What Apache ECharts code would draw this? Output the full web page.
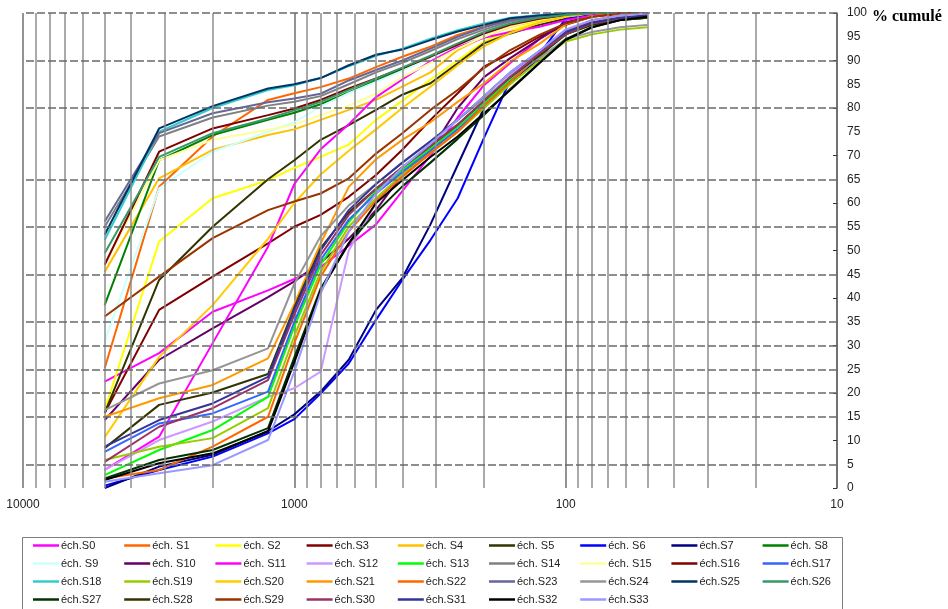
<!DOCTYPE html>
<html><head><meta charset="utf-8">
<script src="https://cdn.jsdelivr.net/npm/echarts@6/dist/echarts.min.js"></script>
<style>html,body{margin:0;padding:0;background:#fff}#c{width:948px;height:609px}</style>
</head><body><div id="c"></div>
<script>
// sieve sizes (µm)
const sizes = [5000, 3150, 2000, 1250, 1000, 800, 630, 500, 400, 315, 250, 200, 160, 125, 100, 80, 63, 50];

const names = ['éch.S0','éch. S1','éch. S2','éch.S3','éch. S4','éch. S5','éch. S6','éch.S7','éch. S8',
  'éch. S9','éch. S10','éch. S11','éch. S12','éch. S13','éch. S14','éch. S15','éch.S16','éch.S17',
  'éch.S18','éch.S19','éch.S20','éch.S21','éch.S22','éch.S23','éch.S24','éch.S25','éch.S26',
  'éch.S27','éch.S28','éch.S29','éch.S30','éch.S31','éch.S32','éch.S33'];

const colors = ['#FF00FF','#FF6600','#FFFF00','#800000','#FFC000','#333300','#0000FF','#000080','#008000',
  '#CCFFFF','#660066','#FF00FF','#CC99FF','#00FF00','#808080','#FFFF99','#800000','#3366FF',
  '#33CCCC','#99CC00','#FFCC00','#FF9900','#FF6600','#666699','#969696','#003366','#339966',
  '#003300','#333300','#993300','#993366','#333399','#000000','#9999FF'];

const S0  = [22.4, 28.4, 37.1, 41.6, 44.0, 46.5, 51.0, 55.5, 62.5, 70.0, 78.0, 84.8, 89.5, 94.5, 97.8, 99.3, 100, 100];
const S1  = [25.2, 63.4, 74.0, 81.7, 83.1, 84.4, 86.2, 88.6, 90.8, 92.9, 95.4, 97.1, 98.9, 99.5, 100, 100, 100, 100];
const S2  = [16.4, 51.9, 61.0, 64.8, 67.4, 69.7, 72.3, 77.5, 81.5, 86.0, 90.0, 94.0, 96.2, 98.3, 99.3, 100, 100, 100];
const S3  = [15.8, 37.5, 44.5, 51.5, 55.0, 57.5, 61.3, 65.9, 71.2, 77.5, 83.1, 88.7, 91.5, 95.0, 97.5, 99.2, 99.8, 100];
const S4  = [45.5, 65.2, 71.2, 74.3, 75.5, 77.5, 79.6, 81.7, 84.5, 87.5, 92.2, 95.0, 97.1, 98.5, 99.3, 100, 100, 100];
const S5  = [15.8, 43.8, 55.0, 65.0, 69.0, 73.3, 76.4, 79.6, 82.8, 85.2, 89.4, 93.6, 95.7, 97.5, 98.8, 99.5, 100, 100];
const S6  = [0.5, 3.8, 6.6, 11.5, 14.5, 19.9, 26.2, 35.4, 43.8, 52.2, 61.0, 73.7, 85.9, 91.3, 98.8, 99.6, 100, 100];
const S7  = [0.0, 4.5, 7.0, 12.0, 15.5, 20.3, 27.0, 37.5, 44.2, 55.5, 68.0, 80.0, 85.5, 90.5, 96.4, 97.8, 98.9, 99.3];
const S8  = [38.5, 69.0, 74.3, 77.5, 79.0, 80.8, 83.3, 85.8, 88.2, 90.8, 93.4, 95.8, 97.6, 98.9, 99.5, 100, 100, 100];
const S9  = [30.8, 63.1, 70.8, 75.0, 77.0, 80.3, 83.1, 85.5, 87.8, 90.5, 93.0, 95.5, 97.5, 98.8, 99.5, 100, 100, 100];
const S10 = [14.3, 27.0, 33.6, 40.2, 43.5, 47.5, 52.5, 58.5, 66.0, 71.0, 80.0, 86.5, 90.5, 94.5, 98.0, 99.5, 100, 100];
const S11 = [3.8, 10.8, 30.5, 50.8, 64.0, 71.3, 76.6, 82.3, 86.0, 89.8, 92.8, 94.8, 96.0, 97.1, 98.5, 99.5, 100, 100];
const S12 = [3.8, 10.1, 14.0, 19.2, 21.0, 24.5, 50.0, 60.0, 66.5, 71.5, 76.5, 81.5, 87.0, 92.0, 96.5, 98.5, 99.5, 100];
const S13 = [2.7, 8.0, 12.2, 19.2, 34.0, 47.0, 56.0, 62.5, 67.0, 71.5, 76.0, 81.0, 86.0, 91.0, 95.5, 97.5, 98.5, 99.0];
const S14 = [55.0, 74.0, 78.0, 80.5, 81.3, 82.5, 85.0, 87.5, 89.5, 92.0, 94.5, 96.5, 98.2, 99.2, 99.7, 100, 100, 100];
const S15 = [47.0, 69.0, 73.3, 75.4, 76.5, 78.5, 80.5, 83.0, 86.5, 89.5, 92.5, 95.0, 97.2, 98.6, 99.4, 100, 100, 100];
const S16 = [47.0, 70.8, 75.7, 78.5, 79.9, 81.7, 84.1, 86.2, 88.4, 90.8, 93.3, 95.7, 97.5, 98.8, 99.5, 100, 100, 100];
const S17 = [7.6, 13.6, 15.7, 20.3, 35.0, 48.0, 56.5, 62.0, 66.5, 71.0, 75.5, 80.5, 85.5, 91.0, 95.8, 98.0, 99.0, 99.5];
const S18 = [52.2, 75.0, 80.0, 83.8, 84.8, 86.3, 88.8, 91.0, 92.5, 94.6, 96.4, 97.8, 99.0, 99.6, 100, 100, 100, 100];
const S19 = [5.9, 8.7, 10.5, 16.8, 32.0, 45.5, 55.0, 61.0, 66.0, 70.5, 75.0, 80.0, 85.0, 90.0, 94.0, 95.5, 96.5, 97.0];
const S20 = [10.7, 27.6, 38.5, 52.5, 60.0, 66.0, 71.0, 75.5, 80.0, 84.5, 89.0, 93.0, 95.8, 98.0, 99.2, 100, 100, 100];
const S21 = [15.0, 18.9, 21.7, 27.3, 38.7, 51.5, 63.4, 69.2, 73.3, 77.0, 81.3, 85.2, 89.8, 93.5, 97.6, 99.3, 100, 100];
const S22 = [2.0, 3.8, 8.7, 15.0, 30.5, 44.5, 54.0, 60.5, 65.5, 70.5, 75.0, 80.5, 85.5, 91.0, 96.0, 98.5, 99.5, 100];
const S23 = [56.1, 74.7, 78.9, 81.2, 82.0, 83.0, 85.8, 88.0, 90.0, 92.5, 95.0, 97.0, 98.5, 99.3, 99.8, 100, 100, 100];
const S24 = [16.4, 22.0, 24.8, 29.4, 43.0, 53.0, 59.5, 64.0, 68.5, 73.0, 77.5, 82.0, 86.5, 90.5, 94.5, 96.0, 97.0, 97.5];
const S25 = [53.3, 75.7, 80.4, 84.1, 85.0, 86.3, 89.0, 91.2, 92.3, 94.3, 96.1, 97.5, 98.9, 99.5, 99.8, 100, 100, 100];
const S26 = [49.4, 69.7, 74.7, 77.8, 79.5, 81.3, 83.8, 86.2, 88.5, 91.0, 93.6, 96.0, 97.8, 99.0, 99.6, 100, 100, 100];
const S27 = [2.0, 5.9, 8.0, 12.6, 27.5, 42.0, 51.5, 58.0, 63.5, 68.5, 73.5, 78.5, 84.0, 89.5, 94.5, 97.0, 98.5, 99.0];
const S28 = [8.4, 17.5, 20.1, 24.0, 38.0, 50.5, 58.0, 63.0, 67.5, 72.0, 76.5, 81.5, 86.5, 91.0, 95.5, 97.5, 98.5, 99.0];
const S29 = [36.1, 44.5, 52.6, 58.5, 60.3, 62.0, 65.2, 70.4, 74.7, 79.6, 83.8, 88.4, 92.2, 95.4, 97.8, 99.2, 100, 100];
const S30 = [5.5, 12.9, 16.8, 22.7, 36.5, 49.0, 57.5, 63.0, 67.5, 72.0, 76.5, 81.5, 86.5, 91.5, 95.5, 97.8, 98.8, 99.3];
const S31 = [8.7, 14.3, 17.8, 23.4, 37.5, 50.0, 58.5, 64.0, 68.5, 73.0, 77.5, 82.5, 87.5, 92.0, 96.0, 98.0, 99.0, 99.5];
const S32 = [1.7, 5.2, 7.3, 11.9, 26.5, 41.5, 51.5, 60.0, 64.8, 69.7, 74.0, 78.9, 83.8, 89.4, 94.3, 97.0, 98.5, 99.2];
const S33 = [1.3, 3.1, 4.8, 10.1, 24.5, 41.0, 54.0, 62.0, 67.5, 72.5, 77.5, 82.5, 87.5, 92.0, 96.5, 98.5, 99.5, 100];

const allValues = [S0,S1,S2,S3,S4,S5,S6,S7,S8,S9,S10,S11,S12,S13,S14,S15,S16,S17,
  S18,S19,S20,S21,S22,S23,S24,S25,S26,S27,S28,S29,S30,S31,S32,S33];

// grid line values (axis values)
const xMinorGrid = [9000,8000,7000,6000,5000,4000,3000,2000,900,800,700,600,500,400,300,200,90,80,70,60,50,40,30,20];
const yDashGrid = [100,90,80,65,55,45,35,30,25,20,15,5];

const chart = echarts.init(document.getElementById('c'), null, {renderer: 'canvas'});

const gridSeries = {
  type: 'line', name: '__grid', data: [], z: 1, silent: true,
  markLine: {
    silent: true, symbol: ['none','none'], animation: false,
    label: {show: false}, emphasis: {disabled: true},
    data: xMinorGrid.map(v => ({xAxis: v, lineStyle: {color: '#8e8e8e', width: 1.5, type: 'solid'}}))
      .concat(yDashGrid.map(v => ({yAxis: v, lineStyle: {color: '#6a6a6a', width: 1.5, type: [8, 3]}})))
  }
};

const dataSeries = names.map((n, i) => ({
  type: 'line', name: n, z: 3,
  data: sizes.map((s, k) => [s, allValues[i][k]]),
  symbol: 'none', showSymbol: false, smooth: false,
  lineStyle: {color: colors[i], width: 2},
  itemStyle: {color: colors[i]},
  emphasis: {disabled: true}
}));

// one legend component per entry, laid out in a 9-column grid
const rowCenters = [547, 565, 583, 601];
const legends = names.map((n, i) => {
  const r = Math.floor(i / 9), c = i % 9;
  return {
    data: [n],
    left: 33 + c * 91.2, top: rowCenters[r] - 7,
    orient: 'horizontal', padding: 0, itemGap: 0,
    icon: 'rect', itemWidth: 26, itemHeight: 2.5, selectedMode: false,
    textStyle: {fontSize: 11, fontFamily: 'Liberation Sans, Arial, sans-serif', color: '#222',
      padding: [0, 0, 0, -3]}
  };
});

chart.setOption({
  animation: false,
  backgroundColor: '#fff',
  title: {
    text: '% cumulé', left: 872, top: 9, padding: 0,
    textStyle: {fontFamily: 'Liberation Serif, Times New Roman, serif', fontWeight: 'bold', fontSize: 16, color: '#000'}
  },
  grid: {left: 23, right: 111, top: 13, bottom: 121, containLabel: false},
  xAxis: {
    type: 'log', logBase: 10, min: 10, max: 10000, inverse: true,
    axisLine: {show: false}, axisTick: {show: false},
    splitLine: {show: true, lineStyle: {color: '#6f6f6f', width: 1.5}},
    axisLabel: {fontSize: 12, color: '#222', margin: 11, fontFamily: 'Liberation Sans, Arial, sans-serif',
      formatter: v => String(Math.round(v))}
  },
  yAxis: [{
    type: 'value', position: 'right', min: 0, max: 100, interval: 5,
    axisLine: {show: true, lineStyle: {color: '#666', width: 1.5}},
    axisTick: {show: false}, splitLine: {show: false},
    axisLabel: {fontSize: 12, color: '#222', margin: 10, fontFamily: 'Liberation Sans, Arial, sans-serif'}
  }, {
    type: 'value', position: 'right', min: 0, max: 100, interval: 10,
    axisLine: {show: false}, splitLine: {show: false},
    axisTick: {show: true, inside: true, length: 4, lineStyle: {color: '#333', width: 1}},
    axisLabel: {show: false}
  }],
  legend: legends,
  graphic: [{
    type: 'rect', z: 0, silent: true,
    shape: {x: 22.5, y: 537.5, width: 820, height: 80},
    style: {fill: '#fff', stroke: '#7f7f7f', lineWidth: 1}
  }],
  series: [gridSeries].concat(dataSeries)
});
</script>
</body></html>
